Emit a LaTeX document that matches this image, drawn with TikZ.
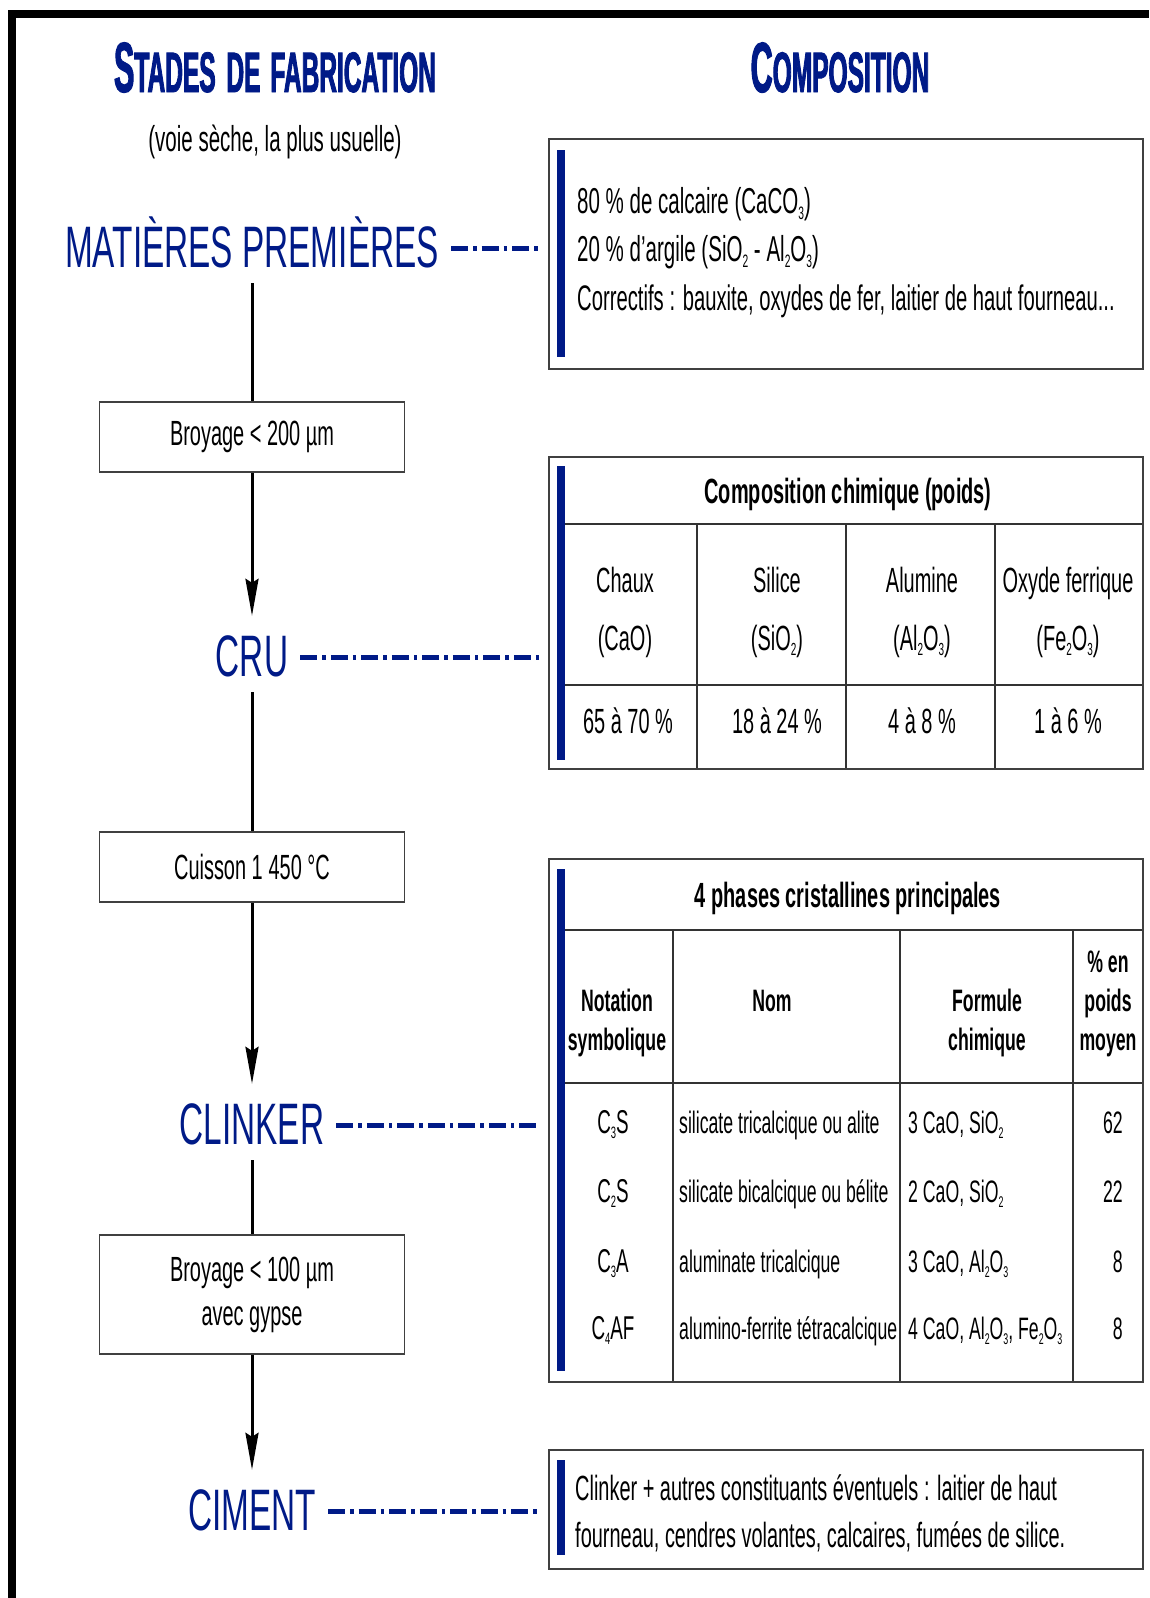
\documentclass[tikz,border=0pt]{standalone}
\usepackage{fontspec}
\usepackage{graphicx}
\setmainfont{Liberation Sans}[FakeStretch=0.57]
\newfontfamily\hfont{Liberation Sans}[FakeStretch=0.43,FakeBold=1.5]
\usetikzlibrary{arrows.meta}
\definecolor{bleu}{RGB}{0,26,135}
\newcommand\fs[1]{\fontsize{#1}{#1}\selectfont}
\newcommand\sbs[1]{\raisebox{-0.32ex}{\scalebox{0.5}{#1}}}
\begin{document}
\begin{tikzpicture}[x=1pt,y=-1pt,
  stage/.style={font=\fs{58.5}, text=bleu, text height=44pt, text depth=0pt, inner ysep=16pt, inner xsep=12pt, anchor=base},
  lbox/.style={draw=black!75, line width=1.5pt, minimum width=305pt, minimum height=70pt, font=\fs{35}, inner sep=0pt, align=center},
  rbox/.style={draw=black!75, line width=2pt, anchor=north west, inner sep=0pt},
  bar/.style={fill=bleu},
  dd/.style={draw=bleu, line width=5pt, dash pattern=on 17pt off 5pt on 3.5pt off 5pt, shorten >=8pt},
  conn/.style={line width=3pt},
  arr/.style={conn, -{Stealth[length=37pt,width=13pt,inset=4pt]}},
  tl/.style={draw=black!80, line width=1.5pt},
  txt/.style={font=\fs{36}, anchor=base west, inner sep=0pt},
  cell/.style={font=\fs{35}, anchor=base, inner sep=0pt},
  hcell/.style={font=\fs{35}\bfseries, anchor=base, inner sep=0pt},
  scell/.style={font=\fs{31}\bfseries, anchor=base, inner sep=0pt},
  rcell/.style={font=\fs{31}, anchor=base west, inner sep=0pt}
]
\useasboundingbox (0,0) rectangle (1149,1598);
% frame
\fill[black] (7.5,10) rectangle (1149,18.3);
\fill[black] (7.5,10) rectangle (15.7,1598);

% headings
\node[font=\hfont\bfseries, text=bleu, anchor=base, inner sep=0pt] (h1) at (275,92) {{\fs{71}S}{\fs{57}TADES\hspace{4pt} DE\hspace{3pt} FABRICATION}};
\node[font=\hfont\bfseries, text=bleu, anchor=base, inner sep=0pt] (h2) at (840,92) {{\fs{71}C}{\fs{57}OMPOSITION}};
\node[font=\fs{36}, anchor=base, inner sep=0pt] (sub) at (275,151) {(voie sèche, la plus usuelle)};

% stages
\node[stage] (mp) at (252,267) {MATIÈRES PREMIÈRES};
\node[lbox] (b1) at (252,437) {Broyage < 200 µm};
\node[stage] (cru) at (252,676) {CRU};
\node[lbox] (b2) at (252,867) {Cuisson 1\,450 °C};
\node[stage] (clk) at (252,1144) {CLINKER};
\node[lbox, minimum height=119pt, font=\fontsize{35}{44}\selectfont] (b3) at (252,1294.5) {Broyage < 100 µm\\avec gypse};
\node[stage] (cim) at (252,1530) {CIMENT};

\draw[conn] (mp.south) -- (b1.north);
\draw[arr] (b1.south) -- (cru.north);
\draw[conn] (cru.south) -- (b2.north);
\draw[arr] (b2.south) -- (clk.north);
\draw[conn] (clk.south) -- (b3.north);
\draw[arr] (b3.south) -- (cim.north);

% right boxes
\node[rbox, minimum width=594pt, minimum height=230pt] (bA) at (548,138) {};
\node[rbox, minimum width=594pt, minimum height=312pt] (bB) at (548,456) {};
\node[rbox, minimum width=594pt, minimum height=523pt] (bC) at (548,858) {};
\node[rbox, minimum width=594pt, minimum height=119pt] (bD) at (548,1449) {};

\draw[dd] ([yshift=-3pt]mp.east) -- ([yshift=-3pt]mp.east -| bA.west);
\draw[dd] ([yshift=-3pt]cru.east) -- ([yshift=-3pt]cru.east -| bB.west);
\draw[dd] ([yshift=-3pt]clk.east) -- ([yshift=-3pt]clk.east -| bC.west);
\draw[dd] ([yshift=-3pt]cim.east) -- ([yshift=-3pt]cim.east -| bD.west);

% blue bars
\fill[bar] (557,150) rectangle (565,357);
\fill[bar] (557,466) rectangle (565,760);
\fill[bar] (557,869) rectangle (565,1371);
\fill[bar] (557,1460) rectangle (565,1555);

% box A text
\node[txt] (a1) at (577,213) {80 \% de calcaire (CaCO\sbs{3})};
\node[txt] (a2) at (577,261) {20 \% d’argile (SiO\sbs{2} - Al\sbs{2}O\sbs{3})};
\node[txt, font=\fs{35.5}] (a3) at (577,310) {Correctifs\,: bauxite, oxydes de fer, laitier de haut fourneau...};

% box B table
\draw[tl] (565,524) -- (1142,524);
\draw[tl] (565,685) -- (1142,685);
\draw[tl] (697,524) -- (697,768);
\draw[tl] (846,524) -- (846,768);
\draw[tl] (995,524) -- (995,768);
\node[hcell] (bh) at (848,503) {Composition chimique (poids)};
\node[cell] (c1a) at (625,592) {Chaux};
\node[cell] (c1b) at (625,650) {(CaO)};
\node[cell] (c2a) at (777,592) {Silice};
\node[cell] (c2b) at (777,650) {(SiO\sbs{2})};
\node[cell] (c3a) at (922,592) {Alumine};
\node[cell] (c3b) at (922,650) {(Al\sbs{2}O\sbs{3})};
\node[cell] (c4a) at (1068,592) {Oxyde ferrique};
\node[cell] (c4b) at (1068,650) {(Fe\sbs{2}O\sbs{3})};
\node[cell] (v1) at (628,733) {65 à 70 \%};
\node[cell] (v2) at (777,733) {18 à 24 \%};
\node[cell] (v3) at (922,733) {4 à 8 \%};
\node[cell] (v4) at (1068,733) {1 à 6 \%};

% box C table
\draw[tl] (565,930) -- (1142,930);
\draw[tl] (565,1083) -- (1142,1083);
\draw[tl] (673,930) -- (673,1381);
\draw[tl] (900,930) -- (900,1381);
\draw[tl] (1073,930) -- (1073,1381);
\node[hcell] (ch) at (848,907) {4 phases cristallines principales};
\node[scell] (s1a) at (617,1011) {Notation};
\node[scell] (s1b) at (617,1050) {symbolique};
\node[scell] (s2) at (772,1011) {Nom};
\node[scell] (s3a) at (987,1011) {Formule};
\node[scell] (s3b) at (987,1050) {chimique};
\node[scell] (s4a) at (1108,972) {\% en};
\node[scell] (s4b) at (1108,1011) {poids};
\node[scell] (s4c) at (1108,1050) {moyen};

\node[cell, font=\fs{33}] (r1a) at (613,1133) {C\sbs{3}S};
\node[cell, font=\fs{33}] (r2a) at (613,1202) {C\sbs{2}S};
\node[cell, font=\fs{33}] (r3a) at (613,1272) {C\sbs{3}A};
\node[cell, font=\fs{33}] (r4a) at (613,1339) {C\sbs{4}AF};
\node[rcell] (r1b) at (679,1133) {silicate tricalcique ou alite};
\node[rcell] (r2b) at (679,1202) {silicate bicalcique ou bélite};
\node[rcell] (r3b) at (679,1272) {aluminate tricalcique};
\node[rcell] (r4b) at (679,1339) {alumino-ferrite tétracalcique};
\node[rcell] (r1c) at (908,1133) {3 CaO, SiO\sbs{2}};
\node[rcell] (r2c) at (908,1202) {2 CaO, SiO\sbs{2}};
\node[rcell] (r3c) at (908,1272) {3 CaO, Al\sbs{2}O\sbs{3}};
\node[rcell] (r4c) at (908,1339) {4 CaO, Al\sbs{2}O\sbs{3}, Fe\sbs{2}O\sbs{3}};
\node[rcell, anchor=base east] (r1d) at (1123,1133) {62};
\node[rcell, anchor=base east] (r2d) at (1123,1202) {22};
\node[rcell, anchor=base east] (r3d) at (1123,1272) {8};
\node[rcell, anchor=base east] (r4d) at (1123,1339) {8};

% box D text
\node[txt, font=\fs{35}] (d1) at (575,1500) {Clinker + autres constituants éventuels\,: laitier de haut};
\node[txt, font=\fs{35}] (d2) at (575,1547) {fourneau, cendres volantes, calcaires, fumées de silice.};
\end{tikzpicture}
\end{document}
